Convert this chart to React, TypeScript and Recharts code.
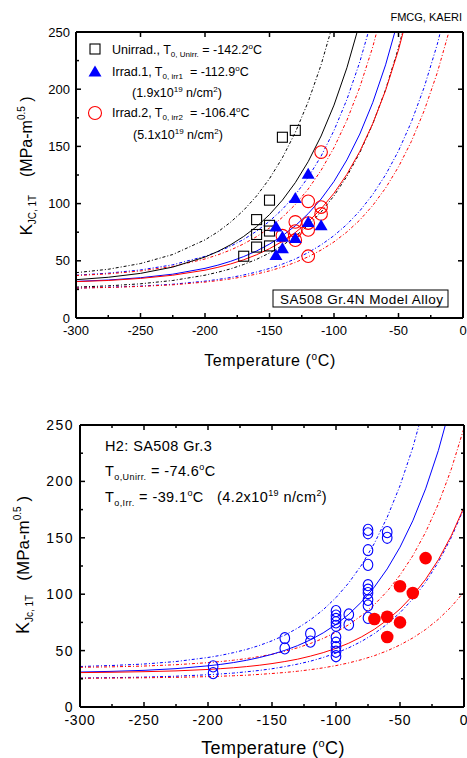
import React from 'react';
import { ComposedChart, Line, Scatter, XAxis, YAxis } from 'recharts';

const FONT = '"Liberation Sans", Arial, Helvetica, sans-serif';
const BLUE = '#0000ff';
const RED = '#ff0000';
const BLACK = '#000000';

// ---------- shared temperature grid for the master-curve lines ----------
const TEMPS = [-300, -275, -250, -225, -200, -190, -180, -170, -160, -150, -140, -130, -120, -110, -100, -90, -80, -70, -60, -50, -40, -30, -20, -10, 0];

// ---------- top chart (SA508 Gr.4N model alloy) curves ----------
const unirrMed = [33.5, 35.6, 39.0, 44.5, 53.3, 58.2, 64.1, 71.3, 79.9, 90.4, 103.0, 118.3, 136.7, 159.1, 186.1, 218.7, 258.2];
const unirrLow = [27.0, 28.1, 29.9, 32.8, 37.4, 40.0, 43.0, 46.8, 51.3, 56.8, 63.4, 71.3, 81.0, 92.7, 106.8, 123.9, 144.5, 169.5, 199.7, 236.2, 280.3];
const unirrUp = [39.6, 42.6, 47.6, 55.5, 68.3, 75.3, 83.9, 94.2, 106.7, 121.8, 140.1, 162.2, 189.0, 221.3, 260.4];
const irr1Med = [32.0, 33.2, 35.2, 38.3, 43.4, 46.2, 49.6, 53.7, 58.6, 64.6, 71.8, 80.6, 91.2, 104.0, 119.4, 138.2, 160.8, 188.2, 221.3, 261.3];
const irr1Low = [26.2, 26.9, 27.9, 29.5, 32.2, 33.7, 35.4, 37.6, 40.2, 43.3, 47.1, 51.6, 57.2, 63.9, 72.0, 81.8, 93.6, 107.9, 125.2, 146.1, 171.4, 202.0, 239.0, 283.8];
const irr1Up = [37.4, 39.2, 42.0, 46.5, 53.9, 57.9, 62.8, 68.7, 75.9, 84.6, 95.0, 107.7, 123.0, 141.5, 163.9, 191.0, 223.8, 263.4];
const irr2Med = [31.8, 32.8, 34.6, 37.4, 41.8, 44.3, 47.3, 50.9, 55.3, 60.6, 67.0, 74.7, 84.1, 95.4, 109.1, 125.6, 145.6, 169.8, 199.0, 234.4, 277.2];
const irr2Low = [26.1, 26.7, 27.6, 29.0, 31.4, 32.7, 34.2, 36.1, 38.4, 41.2, 44.5, 48.6, 53.5, 59.4, 66.5, 75.2, 85.6, 98.3, 113.6, 132.1, 154.4, 181.5, 214.2, 253.7];
const irr2Up = [37.1, 38.6, 41.1, 45.1, 51.6, 55.2, 59.5, 64.8, 71.1, 78.7, 88.0, 99.2, 112.7, 129.1, 148.9, 172.8, 201.8, 236.8, 279.1];

// top chart measured points [T, K]
const unirrPts = [[-170, 54], [-160, 62], [-160, 73], [-160, 86], [-150, 63], [-150, 76], [-150, 81], [-150, 103], [-140, 158], [-130, 164]];
const irr1Pts = [[-145, 80], [-145, 55], [-140, 71], [-140, 61], [-130, 70], [-130, 105], [-120, 84], [-120, 126], [-110, 81]];
const irr2Pts = [[-140, 72], [-130, 84], [-130, 76], [-130, 68], [-120, 102], [-120, 83], [-120, 77], [-120, 54], [-110, 97], [-110, 91], [-110, 145]];

// ---------- bottom chart (H2: SA508 Gr.3) curves ----------
const h2UnirrMed = [31.0, 31.6, 32.5, 34.0, 36.5, 37.8, 39.4, 41.4, 43.8, 46.7, 50.2, 54.4, 59.5, 65.7, 73.2, 82.2, 93.2, 106.4, 122.4, 141.7, 165.1, 193.4, 227.5, 268.9];
const h2UnirrLow = [25.7, 26.0, 26.5, 27.3, 28.6, 29.3, 30.1, 31.2, 32.4, 33.9, 35.8, 38.0, 40.6, 43.9, 47.8, 52.5, 58.2, 65.1, 73.5, 83.6, 95.8, 110.6, 128.5, 150.1, 176.2];
const h2UnirrUp = [35.9, 36.8, 38.1, 40.3, 43.9, 45.8, 48.2, 51.0, 54.5, 58.7, 63.7, 69.9, 77.3, 86.2, 97.0, 110.1, 125.9, 145.1, 168.2, 196.2, 230.0, 270.9];
const h2IrrMed = [30.5, 30.8, 31.3, 32.0, 33.3, 34.0, 34.8, 35.8, 37.0, 38.5, 40.3, 42.4, 45.1, 48.2, 52.0, 56.6, 62.2, 68.9, 77.1, 86.9, 98.8, 113.2, 130.6, 151.7, 177.1];
const h2IrrLow = [25.5, 25.6, 25.9, 26.3, 26.9, 27.3, 27.7, 28.2, 28.9, 29.7, 30.6, 31.7, 33.1, 34.7, 36.7, 39.1, 42.0, 45.5, 49.8, 55.0, 61.2, 68.7, 77.8, 88.8, 102.1];
const h2IrrUp = [35.2, 35.6, 36.3, 37.5, 39.3, 40.3, 41.5, 42.9, 44.7, 46.8, 49.4, 52.5, 56.3, 60.8, 66.3, 73.0, 81.1, 90.8, 102.6, 116.9, 134.1, 154.9, 180.1, 210.6, 247.4];

// bottom chart measured points [T, K]
const h2UnirrPts = [[-196, 36], [-196, 30], [-140, 61], [-140, 52], [-120, 65], [-120, 58], [-100, 85], [-100, 81], [-100, 78], [-100, 75], [-100, 72], [-100, 62], [-100, 57], [-100, 53], [-100, 49], [-100, 45], [-90, 82], [-90, 73], [-75, 157], [-75, 154], [-75, 139], [-75, 126], [-75, 108], [-75, 104], [-75, 101], [-75, 95], [-75, 90], [-75, 79], [-60, 155], [-60, 150]];
const h2IrrPts = [[-70, 78], [-60, 80], [-60, 62], [-50, 107], [-50, 75], [-40, 101], [-30, 132]];

// ---------- axis ticks ----------
const X_TICKS_25 = [-300, -275, -250, -225, -200, -175, -150, -125, -100, -75, -50, -25, 0];
const X_TICKS_50 = [-300, -250, -200, -150, -100, -50, 0];
const Y_TICKS_25 = [0, 25, 50, 75, 100, 125, 150, 175, 200, 225, 250];
const Y_TICKS_50 = [0, 50, 100, 150, 200, 250];

const curve = (vals: number[]) => vals.map((k, i) => ({ t: TEMPS[i], k }));
const pts = (arr: number[][]) => arr.map(([t, k]) => ({ t, k }));

type Side = 'bottom' | 'top' | 'left' | 'right';
const makeTick = (side: Side, showLabels: boolean, fontSize: number, labelOffset: number, letterSpacing = 0) => (props: any) => {
  const { x, y, payload } = props;
  const v = Number(payload.value);
  const major = v % 50 === 0;
  const len = major ? 5 : 3;
  let x2 = x;
  let y2 = y;
  if (side === 'bottom') y2 = y - len;
  if (side === 'top') y2 = y + len;
  if (side === 'left') x2 = x + len;
  if (side === 'right') x2 = x - len;
  let label = null;
  if (showLabels && major) {
    if (side === 'bottom') {
      label = (
        <text x={x} y={y + labelOffset} textAnchor="middle" fontSize={fontSize} fontFamily={FONT} fill={BLACK} letterSpacing={letterSpacing}>
          {v}
        </text>
      );
    } else if (side === 'left') {
      label = (
        <text x={x - labelOffset} y={y + fontSize * 0.36} textAnchor="end" fontSize={fontSize} fontFamily={FONT} fill={BLACK} letterSpacing={letterSpacing}>
          {v}
        </text>
      );
    }
  }
  return (
    <g>
      <line x1={x} y1={y} x2={x2} y2={y2} stroke={BLACK} strokeWidth={1.5} />
      {label}
    </g>
  );
};

const AXIS_LINE = { stroke: BLACK, strokeWidth: 2 };
const DOTS = '3 2 1 2';

const squareShape = (p: any) => <rect x={p.cx - 5} y={p.cy - 5} width={10} height={10} fill="none" stroke={BLACK} strokeWidth={1.1} />;
const triangleShape = (p: any) => <polygon points={`${p.cx},${p.cy - 6} ${p.cx + 6.5},${p.cy + 5} ${p.cx - 6.5},${p.cy + 5}`} fill={BLUE} />;
const redOpenCircle = (p: any) => <circle cx={p.cx} cy={p.cy} r={6.3} fill="none" stroke={RED} strokeWidth={1.1} />;
const blueOpenCircle = (p: any) => <ellipse cx={p.cx} cy={p.cy} rx={4.8} ry={5.6} fill="none" stroke={BLUE} strokeWidth={1.1} />;
const redFilledCircle = (p: any) => <circle cx={p.cx} cy={p.cy} r={6.3} fill={RED} stroke="none" />;

function TopChart() {
  return (
    <ComposedChart width={467} height={380} margin={{ top: 0, right: 0, bottom: 0, left: 0 }}>
      <XAxis xAxisId="b" orientation="bottom" type="number" dataKey="t" domain={[-300, 0]} allowDataOverflow ticks={X_TICKS_25} interval={0} height={62} tickSize={0} tickMargin={0} tickLine={false} axisLine={AXIS_LINE} tick={makeTick('bottom', true, 13, 17)} />
      <XAxis xAxisId="t" orientation="top" type="number" dataKey="t" domain={[-300, 0]} allowDataOverflow ticks={X_TICKS_50} interval={0} height={32} tickSize={0} tickMargin={0} tickLine={false} axisLine={AXIS_LINE} tick={makeTick('top', false, 13, 0)} />
      <YAxis yAxisId="l" orientation="left" type="number" dataKey="k" domain={[0, 250]} allowDataOverflow ticks={Y_TICKS_25} interval={0} width={76} tickSize={0} tickMargin={0} tickLine={false} axisLine={AXIS_LINE} tick={makeTick('left', true, 13, 6)} />
      <YAxis yAxisId="r" orientation="right" type="number" dataKey="k" domain={[0, 250]} allowDataOverflow ticks={Y_TICKS_50} interval={0} width={4} tickSize={0} tickMargin={0} tickLine={false} axisLine={AXIS_LINE} tick={makeTick('right', false, 13, 0)} />

      <Line xAxisId="b" yAxisId="l" data={curve(unirrUp)} dataKey="k" stroke={BLACK} strokeWidth={1} strokeDasharray={DOTS} dot={false} isAnimationActive={false} />
      <Line xAxisId="b" yAxisId="l" data={curve(unirrLow)} dataKey="k" stroke={BLACK} strokeWidth={1} strokeDasharray={DOTS} dot={false} isAnimationActive={false} />
      <Line xAxisId="b" yAxisId="l" data={curve(irr1Up)} dataKey="k" stroke={BLUE} strokeWidth={1} strokeDasharray={DOTS} dot={false} isAnimationActive={false} />
      <Line xAxisId="b" yAxisId="l" data={curve(irr1Low)} dataKey="k" stroke={BLUE} strokeWidth={1} strokeDasharray={DOTS} dot={false} isAnimationActive={false} />
      <Line xAxisId="b" yAxisId="l" data={curve(irr2Up)} dataKey="k" stroke={RED} strokeWidth={1} strokeDasharray={DOTS} dot={false} isAnimationActive={false} />
      <Line xAxisId="b" yAxisId="l" data={curve(irr2Low)} dataKey="k" stroke={RED} strokeWidth={1} strokeDasharray={DOTS} dot={false} isAnimationActive={false} />
      <Line xAxisId="b" yAxisId="l" data={curve(unirrMed)} dataKey="k" stroke={BLACK} strokeWidth={1} dot={false} isAnimationActive={false} />
      <Line xAxisId="b" yAxisId="l" data={curve(irr1Med)} dataKey="k" stroke={BLUE} strokeWidth={1} dot={false} isAnimationActive={false} />
      <Line xAxisId="b" yAxisId="l" data={curve(irr2Med)} dataKey="k" stroke={RED} strokeWidth={1} dot={false} isAnimationActive={false} />

      <Scatter xAxisId="b" yAxisId="l" data={pts(unirrPts)} dataKey="k" shape={squareShape} isAnimationActive={false} />
      <Scatter xAxisId="b" yAxisId="l" data={pts(irr2Pts)} dataKey="k" shape={redOpenCircle} isAnimationActive={false} />
      <Scatter xAxisId="b" yAxisId="l" data={pts(irr1Pts)} dataKey="k" shape={triangleShape} isAnimationActive={false} />
    </ComposedChart>
  );
}

function BottomChart() {
  return (
    <ComposedChart width={467} height={378} margin={{ top: 0, right: 0, bottom: 0, left: 0 }}>
      <XAxis xAxisId="b" orientation="bottom" type="number" dataKey="t" domain={[-300, 0]} allowDataOverflow ticks={X_TICKS_25} interval={0} height={51} tickSize={0} tickMargin={0} tickLine={false} axisLine={AXIS_LINE} tick={makeTick('bottom', true, 14, 18, 0.8)} />
      <XAxis xAxisId="t" orientation="top" type="number" dataKey="t" domain={[-300, 0]} allowDataOverflow ticks={X_TICKS_25} interval={0} height={45} tickSize={0} tickMargin={0} tickLine={false} axisLine={AXIS_LINE} tick={makeTick('top', false, 14, 0)} />
      <YAxis yAxisId="l" orientation="left" type="number" dataKey="k" domain={[0, 250]} allowDataOverflow ticks={Y_TICKS_25} interval={0} width={80} tickSize={0} tickMargin={0} tickLine={false} axisLine={AXIS_LINE} tick={makeTick('left', true, 14, 6, 1.5)} />
      <YAxis yAxisId="r" orientation="right" type="number" dataKey="k" domain={[0, 250]} allowDataOverflow ticks={Y_TICKS_25} interval={0} width={3} tickSize={0} tickMargin={0} tickLine={false} axisLine={AXIS_LINE} tick={makeTick('right', false, 14, 0)} />

      <Line xAxisId="b" yAxisId="l" data={curve(h2UnirrUp)} dataKey="k" stroke={BLUE} strokeWidth={1} strokeDasharray={DOTS} dot={false} isAnimationActive={false} />
      <Line xAxisId="b" yAxisId="l" data={curve(h2UnirrLow)} dataKey="k" stroke={BLUE} strokeWidth={1} strokeDasharray={DOTS} dot={false} isAnimationActive={false} />
      <Line xAxisId="b" yAxisId="l" data={curve(h2IrrUp)} dataKey="k" stroke={RED} strokeWidth={1} strokeDasharray={DOTS} dot={false} isAnimationActive={false} />
      <Line xAxisId="b" yAxisId="l" data={curve(h2IrrLow)} dataKey="k" stroke={RED} strokeWidth={1} strokeDasharray={DOTS} dot={false} isAnimationActive={false} />
      <Line xAxisId="b" yAxisId="l" data={curve(h2UnirrMed)} dataKey="k" stroke={BLUE} strokeWidth={1} dot={false} isAnimationActive={false} />
      <Line xAxisId="b" yAxisId="l" data={curve(h2IrrMed)} dataKey="k" stroke={RED} strokeWidth={1} dot={false} isAnimationActive={false} />

      <Scatter xAxisId="b" yAxisId="l" data={pts(h2UnirrPts)} dataKey="k" shape={blueOpenCircle} isAnimationActive={false} />
      <Scatter xAxisId="b" yAxisId="l" data={pts(h2IrrPts)} dataKey="k" shape={redFilledCircle} isAnimationActive={false} />
    </ComposedChart>
  );
}

function Overlay() {
  const t = { fontFamily: FONT, fill: BLACK } as const;
  return (
    <svg width={467} height={758} style={{ position: 'absolute', left: 0, top: 0, pointerEvents: 'none' }}>
      {/* top chart annotations */}
      <text x={462} y={21} textAnchor="end" fontSize={11} {...t}>FMCG, KAERI</text>

      <rect x={90} y={44} width={10} height={10} fill="none" stroke={BLACK} strokeWidth={1.1} />
      <text x={112} y={54} fontSize={12.5} {...t} style={{ whiteSpace: 'pre' }}>
        Unirrad., T<tspan fontSize={8} dy={3}>0, Unirr.</tspan><tspan dy={-3}> = -142.2</tspan><tspan fontSize={8} dy={-5}>o</tspan><tspan dy={5}>C</tspan>
      </text>

      <polygon points="95,65.5 101.5,76.5 88.5,76.5" fill={BLUE} />
      <text x={112} y={75.5} fontSize={12.5} {...t} style={{ whiteSpace: 'pre' }}>
        Irrad.1, T<tspan fontSize={8} dy={3}>0, irr1</tspan><tspan dy={-3}>  = -112.9</tspan><tspan fontSize={8} dy={-5}>o</tspan><tspan dy={5}>C</tspan>
      </text>
      <text x={132} y={97} fontSize={12.5} {...t} style={{ whiteSpace: 'pre' }}>
        (1.9x10<tspan fontSize={8} dy={-5}>19</tspan><tspan dy={5}> n/cm</tspan><tspan fontSize={8} dy={-5}>2</tspan><tspan dy={5}>)</tspan>
      </text>

      <circle cx={95} cy={113} r={6.5} fill="none" stroke={RED} strokeWidth={1.1} />
      <text x={112} y={117} fontSize={12.5} {...t} style={{ whiteSpace: 'pre' }}>
        Irrad.2, T<tspan fontSize={8} dy={3}>0, irr2</tspan><tspan dy={-3}>  = -106.4</tspan><tspan fontSize={8} dy={-5}>o</tspan><tspan dy={5}>C</tspan>
      </text>
      <text x={133} y={138.5} fontSize={12.5} {...t} style={{ whiteSpace: 'pre' }}>
        (5.1x10<tspan fontSize={8} dy={-5}>19</tspan><tspan dy={5}> n/cm</tspan><tspan fontSize={8} dy={-5}>2</tspan><tspan dy={5}>)</tspan>
      </text>

      <rect x={273} y={290} width={175} height={17} fill="#ffffff" stroke={BLACK} strokeWidth={1} />
      <text x={280} y={304} fontSize={13.5} textLength={163} lengthAdjust="spacing" {...t}>SA508 Gr.4N Model Alloy</text>

      <text x={270} y={366} textAnchor="middle" fontSize={16} letterSpacing={0.6} {...t}>
        Temperature (<tspan fontSize={10} dy={-6}>o</tspan><tspan dy={6}>C)</tspan>
      </text>
      <text x={32} y={166} textAnchor="middle" fontSize={16} transform="rotate(-90 32 166)" {...t} style={{ whiteSpace: 'pre' }}>
        <tspan fontSize={17}>K</tspan><tspan fontSize={10} dy={4}>JC, 1T</tspan><tspan dy={-4}>    (MPa-m</tspan><tspan fontSize={10} dy={-7}>0.5</tspan><tspan dy={7}> )</tspan>
      </text>

      {/* bottom chart annotations */}
      <text x={105} y={451} fontSize={14.5} letterSpacing={0.4} {...t}>H2: SA508 Gr.3</text>
      <text x={105} y={476} fontSize={14.5} letterSpacing={0.4} {...t} style={{ whiteSpace: 'pre' }}>
        T<tspan fontSize={9} dy={4}>o,Unirr.</tspan><tspan dy={-4}> = -74.6</tspan><tspan fontSize={9} dy={-6}>o</tspan><tspan dy={6}>C</tspan>
      </text>
      <text x={105} y={502} fontSize={14.5} letterSpacing={0.4} {...t} style={{ whiteSpace: 'pre' }}>
        T<tspan fontSize={9} dy={4}>o,Irr.</tspan><tspan dy={-4}> = -39.1</tspan><tspan fontSize={9} dy={-6}>o</tspan><tspan dy={6}>C   (4.2x10</tspan><tspan fontSize={9} dy={-6}>19</tspan><tspan dy={6}> n/cm</tspan><tspan fontSize={9} dy={-6}>2</tspan><tspan dy={6}>)</tspan>
      </text>

      <text x={273} y={754} textAnchor="middle" fontSize={18} letterSpacing={0.4} {...t}>
        Temperature (<tspan fontSize={11} dy={-7}>o</tspan><tspan dy={7}>C)</tspan>
      </text>
      <text x={29} y={565} textAnchor="middle" fontSize={17} transform="rotate(-90 29 565)" {...t} style={{ whiteSpace: 'pre' }}>
        <tspan fontSize={18}>K</tspan><tspan fontSize={10} dy={4}>Jc, 1T</tspan><tspan dy={-4}>   (MPa-m</tspan><tspan fontSize={10} dy={-8}>0.5</tspan><tspan dy={8}> )</tspan>
      </text>
    </svg>
  );
}

export default function App() {
  return (
    <div style={{ position: 'absolute', left: 0, top: 0, width: 467, height: 758, background: '#ffffff', overflow: 'hidden' }}>
      <div style={{ position: 'absolute', left: 0, top: 0 }}>
        <TopChart />
      </div>
      <div style={{ position: 'absolute', left: 0, top: 380 }}>
        <BottomChart />
      </div>
      <Overlay />
    </div>
  );
}
